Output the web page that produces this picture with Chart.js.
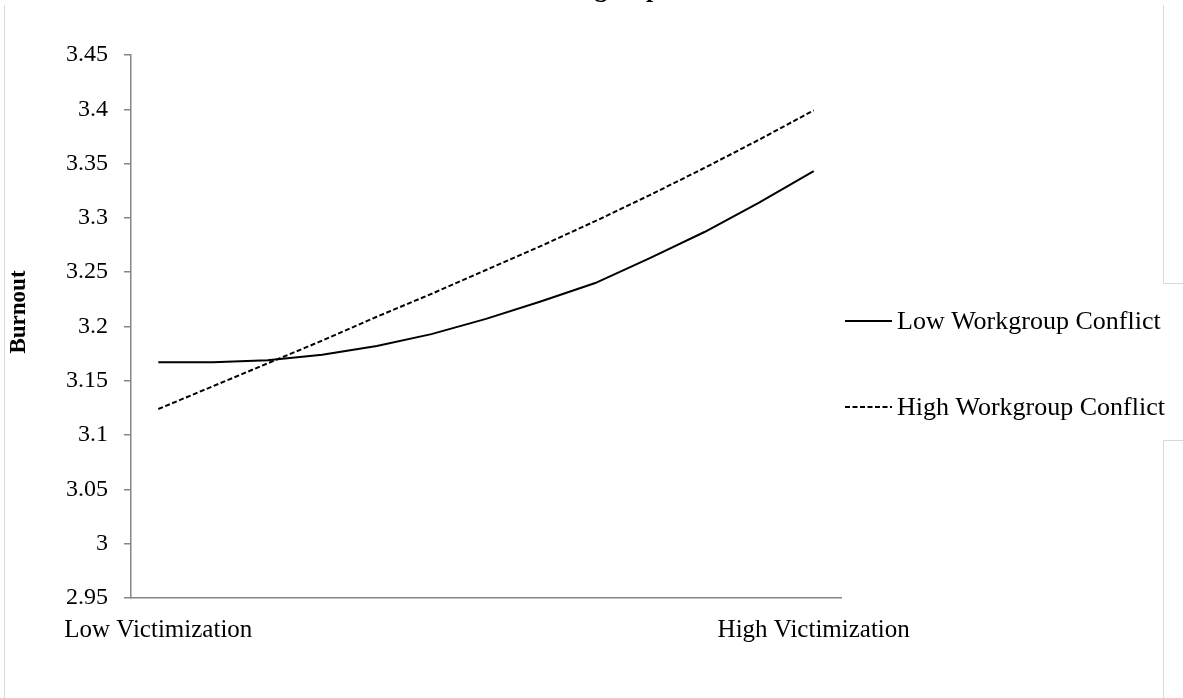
<!DOCTYPE html>
<html>
<head>
<meta charset="utf-8">
<script src="https://cdn.jsdelivr.net/npm/chart.js@4.4.1/dist/chart.umd.min.js"></script>
<style>
    html, body { margin: 0; padding: 0; background: #fff; }
    #chart { display: block; }
</style>
</head>
<body>
<canvas id="chart" width="1183" height="698"></canvas>
<script>
const serif = '"Times New Roman", "Liberation Serif", serif';

// victimization steps, only the two ends are labelled
const xLabels = ['Low Victimization', '', '', '', '', '', '', '', '', '', '', '', 'High Victimization'];
const lowConflict = [3.167, 3.167, 3.169, 3.174, 3.182, 3.193, 3.207, 3.223, 3.240, 3.263, 3.287, 3.314, 3.343];
const highConflict = [3.124, 3.145, 3.166, 3.187, 3.209, 3.230, 3.252, 3.274, 3.297, 3.321, 3.346, 3.372, 3.399];
const yTickValues = [2.95, 3, 3.05, 3.1, 3.15, 3.2, 3.25, 3.3, 3.35, 3.4, 3.45];
const seriesNames = ['Low Workgroup Conflict', 'High Workgroup Conflict'];
const yTitle = 'Burnout';

const ctx = document.getElementById('chart').getContext('2d');

// page frame, cut-off title, axis title and the legend on the right
const extras = {
    id: 'extras',
    beforeDraw(chart) {
        const c = chart.ctx;
        c.save();
        c.strokeStyle = '#d9d9d9';
        c.lineWidth = 1;
        c.beginPath();
        c.moveTo(4.5, 5);
        c.lineTo(4.5, 698);
        c.moveTo(1163.5, 5);
        c.lineTo(1163.5, 283.5);
        c.lineTo(1183, 283.5);
        c.moveTo(1183, 440.5);
        c.lineTo(1163.5, 440.5);
        c.lineTo(1163.5, 698);
        c.stroke();
        c.restore();
    },
    afterDraw(chart) {
        const c = chart.ctx;
        c.save();
        c.fillStyle = '#000';
        c.font = 'bold 26px ' + serif;
        c.textAlign = 'left';
        c.textBaseline = 'alphabetic';
        c.fillText('Workgroup Conflict', 531, -3);

        // y axis title, a bit above the middle like the original
        c.save();
        c.translate(19, 312);
        c.rotate(-Math.PI / 2);
        c.font = 'bold 23px ' + serif;
        c.textAlign = 'center';
        c.textBaseline = 'middle';
        c.fillText(yTitle, 0, 0);
        c.restore();

        c.font = '26px ' + serif;
        c.textAlign = 'left';
        c.textBaseline = 'middle';
        chart.data.datasets.forEach((ds, i) => {
            const y = 321 + i * 86;
            c.strokeStyle = ds.borderColor;
            c.lineWidth = ds.borderWidth;
            c.setLineDash(ds.borderDash || []);
            c.beginPath();
            c.moveTo(845, y);
            c.lineTo(892, y);
            c.stroke();
            c.fillText(ds.label, 897, y + 1);
        });
        c.restore();
    }
};

new Chart(ctx, {
    type: 'line',
    data: {
        labels: xLabels,
        datasets: [
            {
                label: seriesNames[0],
                data: lowConflict,
                borderColor: '#000',
                borderWidth: 2,
                pointRadius: 0,
                fill: false
            },
            {
                label: seriesNames[1],
                data: highConflict,
                borderColor: '#000',
                borderWidth: 2,
                borderDash: [5, 2.5],
                pointRadius: 0,
                fill: false
            }
        ]
    },
    options: {
        responsive: false,
        animation: false,
        layout: {
            padding: { top: 55, right: 342, bottom: 0, left: 0 }
        },
        plugins: {
            legend: { display: false },
            title: { display: false },
            tooltip: { enabled: false }
        },
        scales: {
            x: {
                type: 'category',
                offset: true,
                afterFit(scale) { scale.height = 100; },
                grid: { display: true, drawOnChartArea: false, drawTicks: false },
                border: { color: '#868686', width: 1.5 },
                ticks: {
                    autoSkip: false,
                    maxRotation: 0,
                    padding: 17,
                    color: '#000',
                    font: { family: serif, size: 25 }
                }
            },
            y: {
                min: 2.95,
                max: 3.45,
                afterFit(scale) { scale.width = 131; },
                afterBuildTicks(scale) {
                    scale.ticks = yTickValues.map(v => ({ value: v }));
                },
                grid: {
                    drawOnChartArea: false,
                    drawTicks: true,
                    tickLength: 7,
                    color: '#868686',
                    lineWidth: 1.5
                },
                border: { color: '#868686', width: 1.5 },
                ticks: {
                    padding: 16,
                    color: '#000',
                    font: { family: serif, size: 24 },
                    callback: v => String(Number(v.toFixed(2)))
                },
                title: { display: false }
            }
        }
    },
    plugins: [extras]
});
</script>
</body>
</html>
